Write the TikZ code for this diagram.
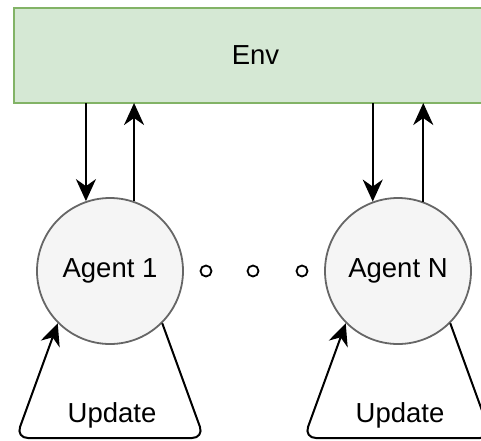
\documentclass[tikz,border=0pt]{standalone}
\usepackage{fontspec}
\setmainfont{Liberation Sans}
\usetikzlibrary{arrows.meta}
\begin{document}
\begin{tikzpicture}[x=1pt,y=1pt,
  lbl/.style={font=\fontsize{27.5}{32}\selectfont, text=black},
  envbox/.style={draw={rgb,255:red,130;green,179;blue,102},
    fill={rgb,255:red,213;green,232;blue,212}, line width=2.2pt},
  agent/.style={circle, draw={rgb,255:red,102;green,102;blue,102},
    fill={rgb,255:red,245;green,245;blue,245}, line width=1.8pt,
    minimum size=146pt, inner sep=0pt, lbl},
  dotmark/.style={circle, draw=black, line width=1.8pt, minimum size=11pt, inner sep=0pt},
  conn/.style={draw=black, line width=2pt,
    -{Stealth[length=22pt, width=20pt, inset=7pt]}},
  selfloop/.style={conn, rounded corners=12pt}]
\useasboundingbox (0,0) rectangle (481,-440);

% environment box (runs past the right edge)
\path[envbox] (14,-8) rectangle (497,-103);
\node[lbl] (env) at (255.5,-55.5) {Env};
\coordinate (envb) at (0,-103);

% agents and the dots between them
\node[agent] (a1) at (110,-271) {Agent 1};
\node[agent] (an) at (398,-271) {Agent N};
\node[dotmark] (d1) at (206,-271) {};
\node[dotmark] (d2) at (253,-271) {};
\node[dotmark] (d3) at (302,-271) {};

% exchanges with the environment
\draw[conn] (a1.109 |- envb) -- (a1.109);
\draw[conn] (a1.71) -- (a1.71 |- envb);
\draw[conn] (an.110 |- envb) -- (an.110);
\draw[conn] (an.70) -- (an.70 |- envb);

% update loops
\coordinate (r1) at (204,-438);
\coordinate (l1) at (16,-438);
\coordinate (rn) at (492,-438);
\coordinate (ln) at (304,-438);
\draw[selfloop] (a1.-45) -- (r1) -- (l1) -- (a1.-135);
\draw[selfloop] (an.-45) -- (rn) -- (ln) -- (an.-135);
\node[lbl] (u1) at (112,-415) {Update};
\node[lbl] (un) at (400,-415) {Update};
\end{tikzpicture}
\end{document}
